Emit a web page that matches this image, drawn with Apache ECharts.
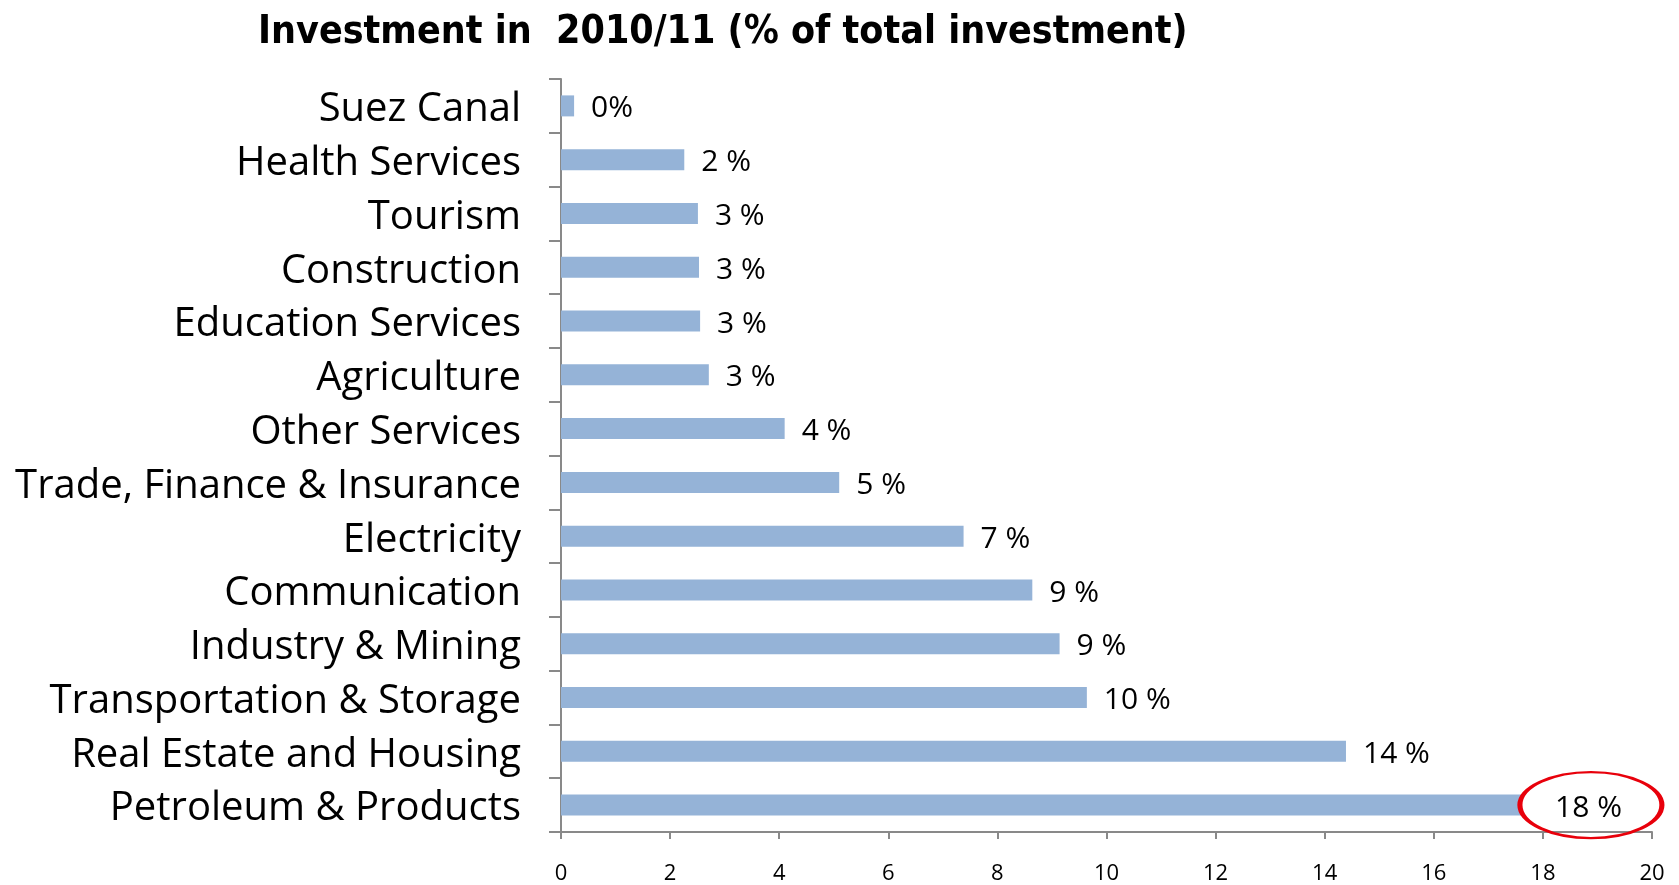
<!DOCTYPE html>
<html>
<head>
<meta charset="utf-8">
<script src="https://cdn.jsdelivr.net/npm/echarts@6/dist/echarts.min.js"></script>
<style>
html, body { margin: 0; padding: 0; background: #fff; }
#chart { width: 1679px; height: 885px; }
</style>
</head>
<body>
<div id="chart"></div>
<script>
// sectors, top to bottom
const sectors = ['Suez Canal', 'Health Services', 'Tourism', 'Construction', 'Education Services',
  'Agriculture', 'Other Services', 'Trade, Finance & Insurance', 'Electricity', 'Communication',
  'Industry & Mining', 'Transportation & Storage', 'Real Estate and Housing', 'Petroleum & Products']
// share of total investment (%)
const shares = [0.24, 2.26, 2.51, 2.53, 2.55, 2.71, 4.1, 5.1, 7.38, 8.64, 9.14, 9.64, 14.39, 17.6]
// labels as printed next to the bars
const shareLabels = ['0%', '2 %', '3 %', '3 %', '3 %', '3 %', '4 %', '5 %', '7 %', '9 %', '9 %', '10 %', '14 %', '18 %']
const xTicks = [0, 20, 2]  // min, max, step
// highlighted value (ellipse)
const highlight = { sector: 'Petroleum & Products', x: 18.88 }

const chart = echarts.init(document.getElementById('chart'))
chart.setOption({
  animation: false,
  title: {
    text: 'Investment in  2010/11 (% of total investment)',
    left: 253,
    top: 8,
    textStyle: {
      fontFamily: 'DejaVu Sans Condensed',
      fontWeight: 'bold',
      fontSize: 39,
      color: '#000'
    }
  },
  grid: { left: 561, right: 27, top: 79, bottom: 49, containLabel: false },
  xAxis: {
    type: 'value',
    min: xTicks[0],
    max: xTicks[1],
    interval: xTicks[2],
    splitLine: { show: false },
    axisLine: { show: true, lineStyle: { color: '#898989', width: 2 } },
    axisTick: { show: true, length: 7, lineStyle: { color: '#898989', width: 2 } },
    axisLabel: { color: '#000', fontSize: 22, fontFamily: 'Open Sans', margin: 31 }
  },
  yAxis: {
    type: 'category',
    inverse: true,
    data: sectors,
    axisLine: { show: true, lineStyle: { color: '#898989', width: 2 } },
    axisTick: { show: true, length: 12, lineStyle: { color: '#898989', width: 2 } },
    // top-aligned with a short line box: nudges text a few px below the band centre
    axisLabel: { color: '#000', fontSize: 40, fontFamily: 'Open Sans', margin: 40, verticalAlign: 'top', lineHeight: 8 }
  },
  series: [{
    type: 'bar',
    data: shares.map((v, i) => ({
      value: v,
      label: i === shares.length - 1 ? { distance: 34 } : undefined
    })),
    barWidth: 21,
    itemStyle: { color: '#95B3D7' },
    label: {
      show: true,
      position: 'right',
      distance: 17,
      color: '#000',
      fontSize: 30,
      fontFamily: 'Open Sans',
      verticalAlign: 'top',
      lineHeight: 6,
      formatter: p => shareLabels[p.dataIndex]
    },
    markPoint: {
      silent: true,
      symbol: 'circle',
      symbolSize: [142, 66],
      label: { show: false },
      itemStyle: { color: 'rgba(0,0,0,0)', borderColor: '#E8000B', borderWidth: 3.5 },
      data: [{ coord: [highlight.x, highlight.sector] }]
    }
  }]
})
</script>
</body>
</html>
